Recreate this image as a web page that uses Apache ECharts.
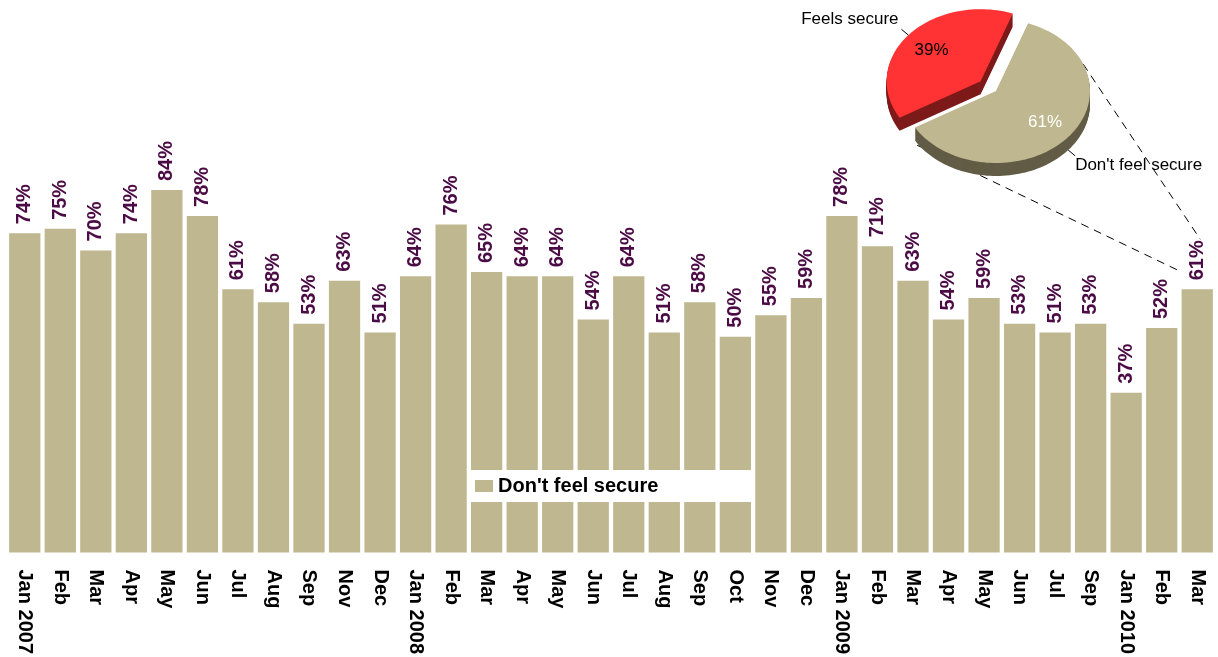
<!DOCTYPE html>
<html>
<head>
<meta charset="utf-8">
<title>Don't feel secure</title>
<script src="https://cdn.jsdelivr.net/npm/echarts@6/dist/echarts.min.js"></script>
<style>
  html, body { margin: 0; padding: 0; background: #ffffff; }
  #chart { width: 1218px; height: 657px; }
</style>
</head>
<body>
<div id="chart"></div>
<script>
// Monthly survey: share of respondents who don't feel secure
const months = [
  'Jan 2007', 'Feb', 'Mar', 'Apr', 'May', 'Jun', 'Jul', 'Aug', 'Sep', 'Nov', 'Dec',
  'Jan 2008', 'Feb', 'Mar', 'Apr', 'May', 'Jun', 'Jul', 'Aug', 'Sep', 'Oct', 'Nov', 'Dec',
  'Jan 2009', 'Feb', 'Mar', 'Apr', 'May', 'Jun', 'Jul', 'Sep',
  'Jan 2010', 'Feb', 'Mar'
];
const dontFeelSecure = [
  74, 75, 70, 74, 84, 78, 61, 58, 53, 63, 51,
  64, 76, 65, 64, 64, 54, 64, 51, 58, 50, 55, 59,
  78, 71, 63, 54, 59, 53, 51, 53,
  37, 52, 61
];
const barSeriesName = "Don't feel secure";

// Breakdown for the latest month, shown as a 3D pie
const pieNames = ['Feels secure', "Don't feel secure"];
const pieValues = [39, 61];
const pieTop = ['#ff3333', '#bfb78f'];
const pieSide = ['#7d1a1a', '#625c46'];
const pieInnerText = ['#000000', '#ffffff'];

const FONT = '"Liberation Sans", Arial, sans-serif';
const BAR_COLOR = '#bfb78f';
const LABEL_COLOR = '#4b0b45';

// Pie layout (pixels)
const PIE = { cx: 996, cy: 91, rx: 94, ry: 72, depth: 13, explode: 20, start: 70 };
const pieTotal = pieValues.reduce((a, b) => a + b, 0);

function rad(d) { return d * Math.PI / 180; }
function ellipsePt(ox, oy, deg) {
  return [ox + PIE.rx * Math.cos(rad(deg)), oy - PIE.ry * Math.sin(rad(deg))];
}

function renderPieSlice(params, api) {
  const i = params.dataIndex;
  let start = PIE.start;
  for (let j = 0; j < i; j++) start += pieValues[j] / pieTotal * 360;
  const sweep = api.value(0) / pieTotal * 360;
  const end = start + sweep;
  const mid = (start + end) / 2;
  const off = i === 0 ? PIE.explode : 0;
  const ox = PIE.cx + off * Math.cos(rad(mid));
  const oy = PIE.cy - off * Math.sin(rad(mid)) * PIE.ry / PIE.rx;

  const pts = [[ox, oy]];
  const steps = Math.max(8, Math.ceil(sweep / 2));
  for (let k = 0; k <= steps; k++) {
    pts.push(ellipsePt(ox, oy, start + sweep * k / steps));
  }

  const children = [];
  // extruded side: stacked copies of the slice, shifted down
  for (let d = PIE.depth; d >= 1; d--) {
    children.push({
      type: 'polygon',
      shape: { points: pts.map(p => [p[0], p[1] + d]) },
      style: { fill: pieSide[i] }
    });
  }
  children.push({
    type: 'polygon',
    shape: { points: pts },
    style: { fill: pieTop[i] }
  });

  // percentage inside the slice
  const inner = [ox + PIE.rx * 0.68 * Math.cos(rad(mid)), oy - PIE.ry * 0.68 * Math.sin(rad(mid))];
  children.push({
    type: 'text',
    x: inner[0], y: inner[1],
    style: {
      text: Math.round(api.value(0)) + '%',
      fill: pieInnerText[i], font: '17px ' + FONT,
      align: 'center', verticalAlign: 'middle'
    }
  });

  // outer name label with a short leader
  const lower = Math.sin(rad(mid)) < 0;
  const anchor = ellipsePt(ox, oy, mid);
  if (lower) anchor[1] += PIE.depth;
  const lead = [anchor[0] + 9 * Math.cos(rad(mid)), anchor[1] - 9 * Math.sin(rad(mid))];
  const left = Math.cos(rad(mid)) < 0;
  children.push({
    type: 'line',
    shape: { x1: anchor[0], y1: anchor[1], x2: lead[0], y2: lead[1] },
    style: { stroke: '#000000', lineWidth: 1 }
  });
  children.push({
    type: 'text',
    x: left ? lead[0] - 3 : lead[0],
    y: lower ? lead[1] + 1 : lead[1] - 2,
    style: {
      text: pieNames[i], fill: '#000000', font: '17px ' + FONT,
      align: left ? 'right' : 'left', verticalAlign: lower ? 'top' : 'bottom'
    }
  });

  return { type: 'group', children };
}

const chart = echarts.init(document.getElementById('chart'), null, { renderer: 'canvas' });

chart.setOption({
  animation: false,
  backgroundColor: '#ffffff',
  textStyle: { fontFamily: FONT },
  grid: { left: 7, right: 3, top: 121, bottom: 103, containLabel: false },
  legend: {
    data: [barSeriesName],
    left: 470, top: 470,
    backgroundColor: '#ffffff',
    padding: [6, 93, 6, 5],
    itemWidth: 18, itemHeight: 12, itemGap: 4,
    icon: 'rect',
    textStyle: { color: '#000000', fontWeight: 'bold', fontSize: 20, fontFamily: FONT },
    selectedMode: false
  },
  xAxis: {
    type: 'category',
    data: months,
    axisLine: { show: false },
    axisTick: { show: false },
    axisLabel: {
      interval: 0, rotate: -90, margin: 17,
      color: '#000000', fontWeight: 'bold', fontSize: 20, fontFamily: FONT
    }
  },
  yAxis: {
    type: 'value', min: 0, max: 100,
    show: false,
    splitLine: { show: false }
  },
  series: [
    {
      name: barSeriesName,
      type: 'bar',
      data: dontFeelSecure,
      barCategoryGap: '12%',
      itemStyle: { color: BAR_COLOR },
      label: {
        show: true, position: 'top', rotate: 90, distance: 9,
        align: 'left', verticalAlign: 'middle',
        formatter: '{c}%',
        color: LABEL_COLOR, fontWeight: 'bold', fontSize: 20, fontFamily: FONT
      }
    },
    {
      name: 'Breakdown',
      type: 'custom',
      coordinateSystem: 'none',
      data: pieValues,
      renderItem: renderPieSlice,
      z: 5
    }
  ]
});

// Dashed connectors from the pie to the month it breaks down (last bar)
const lastIdx = dontFeelSecure.length - 1;
const barTop = chart.convertToPixel({ gridIndex: 0 }, [lastIdx, dontFeelSecure[lastIdx]]);
const pA = ellipsePt(PIE.cx, PIE.cy, 213); pA[1] += PIE.depth + 2;
const pB = ellipsePt(PIE.cx, PIE.cy, 22);
chart.setOption({
  graphic: [
    {
      type: 'line', z: 1,
      shape: { x1: pA[0], y1: pA[1], x2: barTop[0] - 15, y2: barTop[1] - 17 },
      style: { stroke: '#000000', lineWidth: 1, lineDash: [8, 6] }
    },
    {
      type: 'line', z: 1,
      shape: { x1: pB[0], y1: pB[1], x2: barTop[0] + 3, y2: barTop[1] - 50 },
      style: { stroke: '#000000', lineWidth: 1, lineDash: [8, 6] }
    }
  ]
});
</script>
</body>
</html>
